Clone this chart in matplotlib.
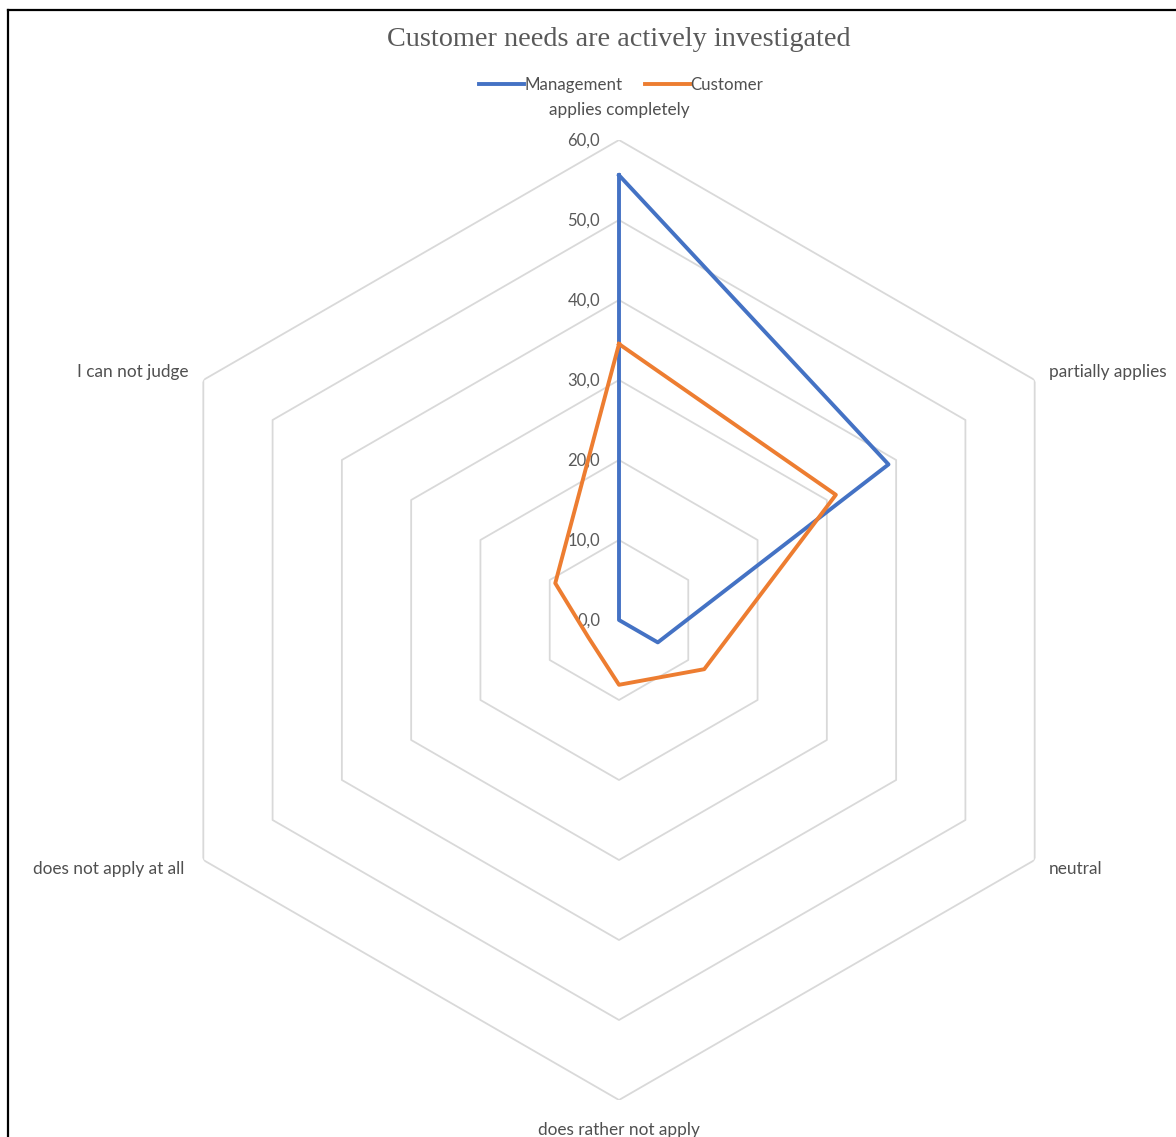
import matplotlib.pyplot as plt
import numpy as np
from matplotlib.lines import Line2D

categories = ["applies completely", "partially applies", "neutral",
              "does rather not apply", "does not apply at all", "I can not judge"]
management = [55.6, 38.9, 5.6, 0.0, 0.0, 0.0]
customer = [34.5, 31.3, 12.3, 8.1, 4.4, 9.2]
r_ticks = [0, 10, 20, 30, 40, 50, 60]

W, H = 1176, 1137
fig = plt.figure(figsize=(W / 100, H / 100), dpi=100)
plt.rcParams['font.family'] = ['Lato', 'DejaVu Sans']

# polar axes centred on (619, 620) px, radius 480 px
cx, cy, R = 619, 620, 480
ax = fig.add_axes([(cx - R) / W, (H - cy - R) / H, 2 * R / W, 2 * R / H], projection='polar')
ax.set_theta_zero_location('N')
ax.set_theta_direction(-1)
ax.set_ylim(0, 60)
ax.grid(False)
ax.set_xticks([])
ax.set_yticks([])
ax.spines['polar'].set_visible(False)
ax.patch.set_alpha(0)

n = len(categories)
theta = np.arange(n) * 2 * np.pi / n
theta_c = np.append(theta, theta[0])

# hexagon grid
for r in r_ticks[1:]:
    ax.plot(theta_c, [r] * (n + 1), color='#d9d9d9', lw=1.3, zorder=1)

ax.plot(theta_c, management + management[:1], color='#4472C4', lw=2.8, label='Management', zorder=3)
ax.plot(theta_c, customer + customer[:1], color='#ED7D31', lw=2.8, label='Customer', zorder=3)

# radial tick labels
for r in r_ticks:
    ax.annotate(f"{r:.1f}".replace('.', ','), xy=(0, r), xytext=(-19, -1),
                textcoords='offset pixels', ha='right', va='center',
                fontsize=12, color='#595959', zorder=2)

# category labels
offsets = [(0, 30, 'center'), (14, 8, 'left'), (14, -9, 'left'),
           (0, -30, 'center'), (-19, -9, 'right'), (-15, 8, 'right')]
for t, lab, (dx, dy, ha) in zip(theta, categories, offsets):
    ax.annotate(lab, xy=(t, 60), xytext=(dx, dy), textcoords='offset pixels',
                ha=ha, va='center', fontsize=12.4, color='#505050', annotation_clip=False)

fig.text(619 / W, 1 - 39 / H, "Customer needs are actively investigated",
         family='Liberation Serif', fontsize=20.3, color='#595959', ha='center', va='center')

fig.legend(loc='center', bbox_to_anchor=(621 / W, 1 - 85 / H), ncol=2, frameon=False,
           fontsize=12.2, handlelength=2.7, handletextpad=0.0, columnspacing=1.3,
           labelcolor='#505050')

# screenshot frame
fig.add_artist(Line2D([8 / W, 1], [1 - 10 / H, 1 - 10 / H], color='black', lw=1.6))
fig.add_artist(Line2D([8 / W, 8 / W], [0, 1 - 10 / H], color='black', lw=1.6))

fig.savefig("out.png", dpi=100, facecolor='white')
